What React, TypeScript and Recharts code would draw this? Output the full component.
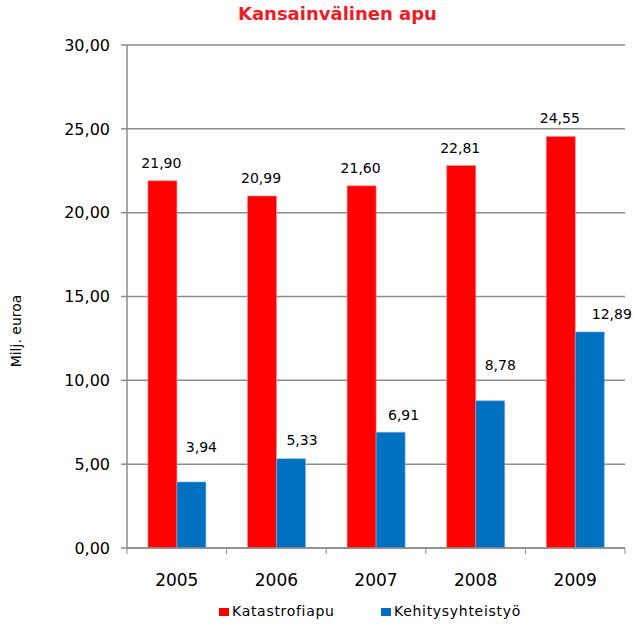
import React from 'react';
import { BarChart, Bar, XAxis, YAxis, CartesianGrid, LabelList, Legend, Label } from 'recharts';

const categories = ['2005', '2006', '2007', '2008', '2009'];
const katastrofiapu = [21.9, 20.99, 21.6, 22.81, 24.55];
const kehitysyhteistyo = [3.94, 5.33, 6.91, 8.78, 12.89];
const yTicks = [0, 5, 10, 15, 20, 25, 30];
const seriesNames = ['Katastrofiapu', 'Kehitysyhteistyö'];
const title = 'Kansainvälinen apu';
const yLabel = 'Milj. euroa';

// label nudges (styling)
const blueLabelDx = [10, 11, 13, 10, 22];
const blueLabelDy = [-30, -14, -12, -31, -13];

const RED = '#FF0000';
const BLUE = '#0070C0';
const TITLE_RED = '#EE1C25';
const GRID = '#8C8C8C';
const FONT = '"DejaVu Sans", Verdana, sans-serif';

const W = 634;
const H = 625;
const M = { top: 45, right: 9, left: 0, bottom: 0 };
const Y_W = 127;
const PLOT_W = W - M.left - M.right - Y_W;
const BAND = PLOT_W / categories.length;

const data = categories.map((c, i) => ({
  year: c,
  k: katastrofiapu[i],
  h: kehitysyhteistyo[i],
}));

const fmt = (v: number) => v.toFixed(2).replace('.', ',');

const XTick = (props: any) => {
  const { x, y, payload, index } = props;
  const last = index === categories.length - 1;
  return (
    <g>
      <line x1={x - BAND / 2} x2={x - BAND / 2} y1={y - 8} y2={y - 2} stroke={GRID} strokeWidth={1} />
      {last && <line x1={x + BAND / 2} x2={x + BAND / 2} y1={y - 8} y2={y - 2} stroke={GRID} strokeWidth={1} />}
      <text x={x} y={y + 30} textAnchor="middle" fontSize={17} fontFamily={FONT} fill="#000">
        {payload.value}
      </text>
    </g>
  );
};

const redLabel = (props: any) => {
  const { x, y, width, value } = props;
  return (
    <text x={x + width / 2 - 1} y={y - 13} textAnchor="middle" fontSize={14} fontFamily={FONT} fill="#000">
      {fmt(value)}
    </text>
  );
};

const blueLabel = (props: any) => {
  const { x, y, width, value, index } = props;
  return (
    <text
      x={x + width / 2 + blueLabelDx[index]}
      y={y + blueLabelDy[index]}
      textAnchor="middle"
      fontSize={14}
      fontFamily={FONT}
      fill="#000"
    >
      {fmt(value)}
    </text>
  );
};

const legendLeft = [219, 381];

const LegendContent = () => (
  <div style={{ position: 'relative', width: W, height: 30, fontFamily: FONT, fontSize: 14, letterSpacing: 0.7, color: '#000' }}>
    {[RED, BLUE].map((c, i) => (
      <React.Fragment key={i}>
        <span
          style={{ position: 'absolute', left: legendLeft[i], top: 13, width: 10, height: 8, background: c }}
        />
        <span style={{ position: 'absolute', left: legendLeft[i] + 13, top: 8, lineHeight: '17px', whiteSpace: 'nowrap' }}>
          {seriesNames[i]}
        </span>
      </React.Fragment>
    ))}
  </div>
);

export default function App() {
  return (
    <div style={{ position: 'absolute', left: 0, top: 0, width: W, height: H, background: '#fff' }}>
      <div
        style={{
          position: 'absolute',
          top: 3,
          left: 238,
          whiteSpace: 'nowrap',
          fontFamily: FONT,
          fontWeight: 'bold',
          fontSize: 18,
          lineHeight: '21px',
          color: TITLE_RED,
          zIndex: 2,
        }}
      >
        {title}
      </div>
      <BarChart width={W} height={H} data={data} margin={M} barCategoryGap="21%" barGap={0}>
        <CartesianGrid horizontal vertical={false} stroke={GRID} strokeWidth={1.5} />
        <XAxis
          dataKey="year"
          height={47}
          axisLine={{ stroke: GRID, strokeWidth: 1.5 }}
          tickLine={false}
          tick={<XTick />}
          interval={0}
        />
        <YAxis
          width={Y_W}
          domain={[0, 30]}
          ticks={yTicks}
          tickFormatter={fmt}
          axisLine={{ stroke: GRID, strokeWidth: 1.5 }}
          tickLine={{ stroke: GRID, strokeWidth: 1.5 }}
          tickSize={6}
          tickMargin={11}
          tick={{ fontSize: 16, fontFamily: FONT, fill: '#000' }}
        >
          <Label
            content={() => (
              <text
                x={21}
                y={331}
                transform="rotate(-90 21 331)"
                textAnchor="middle"
                fontSize={14}
                fontFamily={FONT}
                fill="#000"
              >
                {yLabel}
              </text>
            )}
          />
        </YAxis>
        <Legend verticalAlign="bottom" height={30} wrapperStyle={{ left: 0, width: W }} content={<LegendContent />} />
        <Bar dataKey="k" name={seriesNames[0]} fill={RED} stroke="#FF8C8C" strokeWidth={0.6} isAnimationActive={false}>
          <LabelList dataKey="k" content={redLabel} />
        </Bar>
        <Bar dataKey="h" name={seriesNames[1]} fill={BLUE} stroke="#7FB2DC" strokeWidth={0.6} isAnimationActive={false}>
          <LabelList dataKey="h" content={blueLabel} />
        </Bar>
      </BarChart>
    </div>
  );
}
